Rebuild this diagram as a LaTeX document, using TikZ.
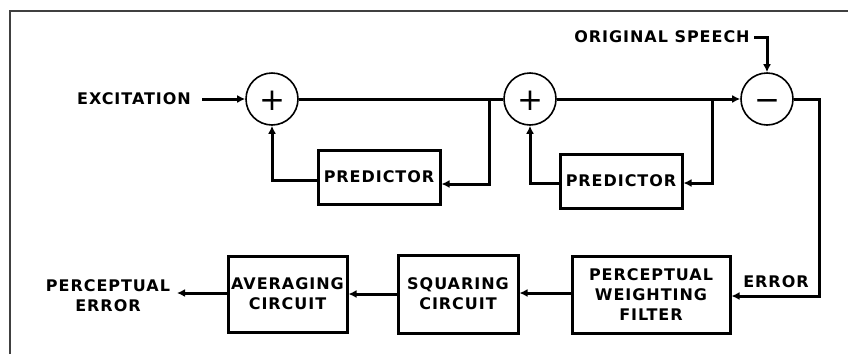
\documentclass[tikz,border=0pt]{standalone}
\usepackage{fontspec}
\setmainfont{DejaVu Sans}[LetterSpace=6]
\newfontfamily\symfont{DejaVu Sans}
\usetikzlibrary{arrows.meta}
\begin{document}
\begin{tikzpicture}[x=1pt,y=-1pt,
  txt/.style={font=\bfseries\fontsize{16}{20}\selectfont, align=center, inner sep=0pt},
  blk/.style={txt, draw, line width=3pt},
  sumc/.style={circle, draw, line width=1.6pt, minimum size=52pt, inner sep=0pt},
  sym/.style={font=\symfont\fontsize{31}{31}\selectfont, inner sep=0pt, anchor=base},
  wire/.style={line width=3pt},
  arr/.style={wire, -{Latex[length=8pt,width=8pt]}}]
\useasboundingbox (0,0) rectangle (848,354);
\draw[line width=1.4pt, black!75] (10,354) -- (10,11) -- (848,11);
% summing junctions
\node[sumc] (s1) at (272,99) {};
\node[sym] (s1t) at (272,110) {+};
\node[sumc] (s2) at (530,99) {};
\node[sym] (s2t) at (530,110) {+};
\node[sumc] (s3) at (767,99) {};
\node[sym] (s3t) at (767,110) {−};
% blocks
\node[blk, minimum width=122pt, minimum height=54pt] (pr1) at (379,177) {PREDICTOR};
\node[blk, minimum width=122pt, minimum height=54pt] (pr2) at (621,181) {PREDICTOR};
\node[blk, minimum width=158pt, minimum height=77pt] (pwf) at (651,294.5) {PERCEPTUAL\\WEIGHTING\\FILTER};
\node[blk, minimum width=120pt, minimum height=78pt] (sq) at (458,294) {SQUARING\\CIRCUIT};
\node[blk, minimum width=119pt, minimum height=76pt] (avg) at (287.5,294) {AVERAGING\\CIRCUIT};
% labels
\node[txt] (exc) at (134,99) {EXCITATION};
\node[txt] (orig) at (662,37) {ORIGINAL SPEECH};
\node[txt] (err) at (776,282) {ERROR};
\node[txt] (perr) at (108,296) {PERCEPTUAL\\ERROR};
% coordinates
\coordinate (excs) at (202,99);
\coordinate (b1) at (489,99);
\coordinate (b2) at (712,99);
\coordinate (os) at (754,37);
\coordinate (eo) at (177,293);
% connectors
\draw[arr] (excs) -- (s1.west);
\draw[wire] (s1.east) -- (s2.west);
\draw[arr] (b1) -- (b1 |- 0,184) -- (pr1.east |- 0,184);
\draw[arr] (pr1.west |- 0,180) -- (s1 |- 0,180) -- (s1.south);
\draw[arr] (s2.east) -- (s3.west);
\draw[arr] (b2) -- (b2 |- 0,183) -- (pr2.east |- 0,183);
\draw[arr] (pr2.west |- 0,183) -- (s2 |- 0,183) -- (s2.south);
\draw[arr] (os) -- (s3 |- os) -- (s3.north);
\draw[arr] (s3.east) -- (819,99) -- (819,296) -- (pwf.east |- 0,296);
\draw[arr] (pwf.west |- 0,293) -- (sq.east |- 0,293);
\draw[arr] (sq.west |- 0,294) -- (avg.east |- 0,294);
\draw[arr] (avg.west |- 0,293) -- (eo);
\end{tikzpicture}
\end{document}
